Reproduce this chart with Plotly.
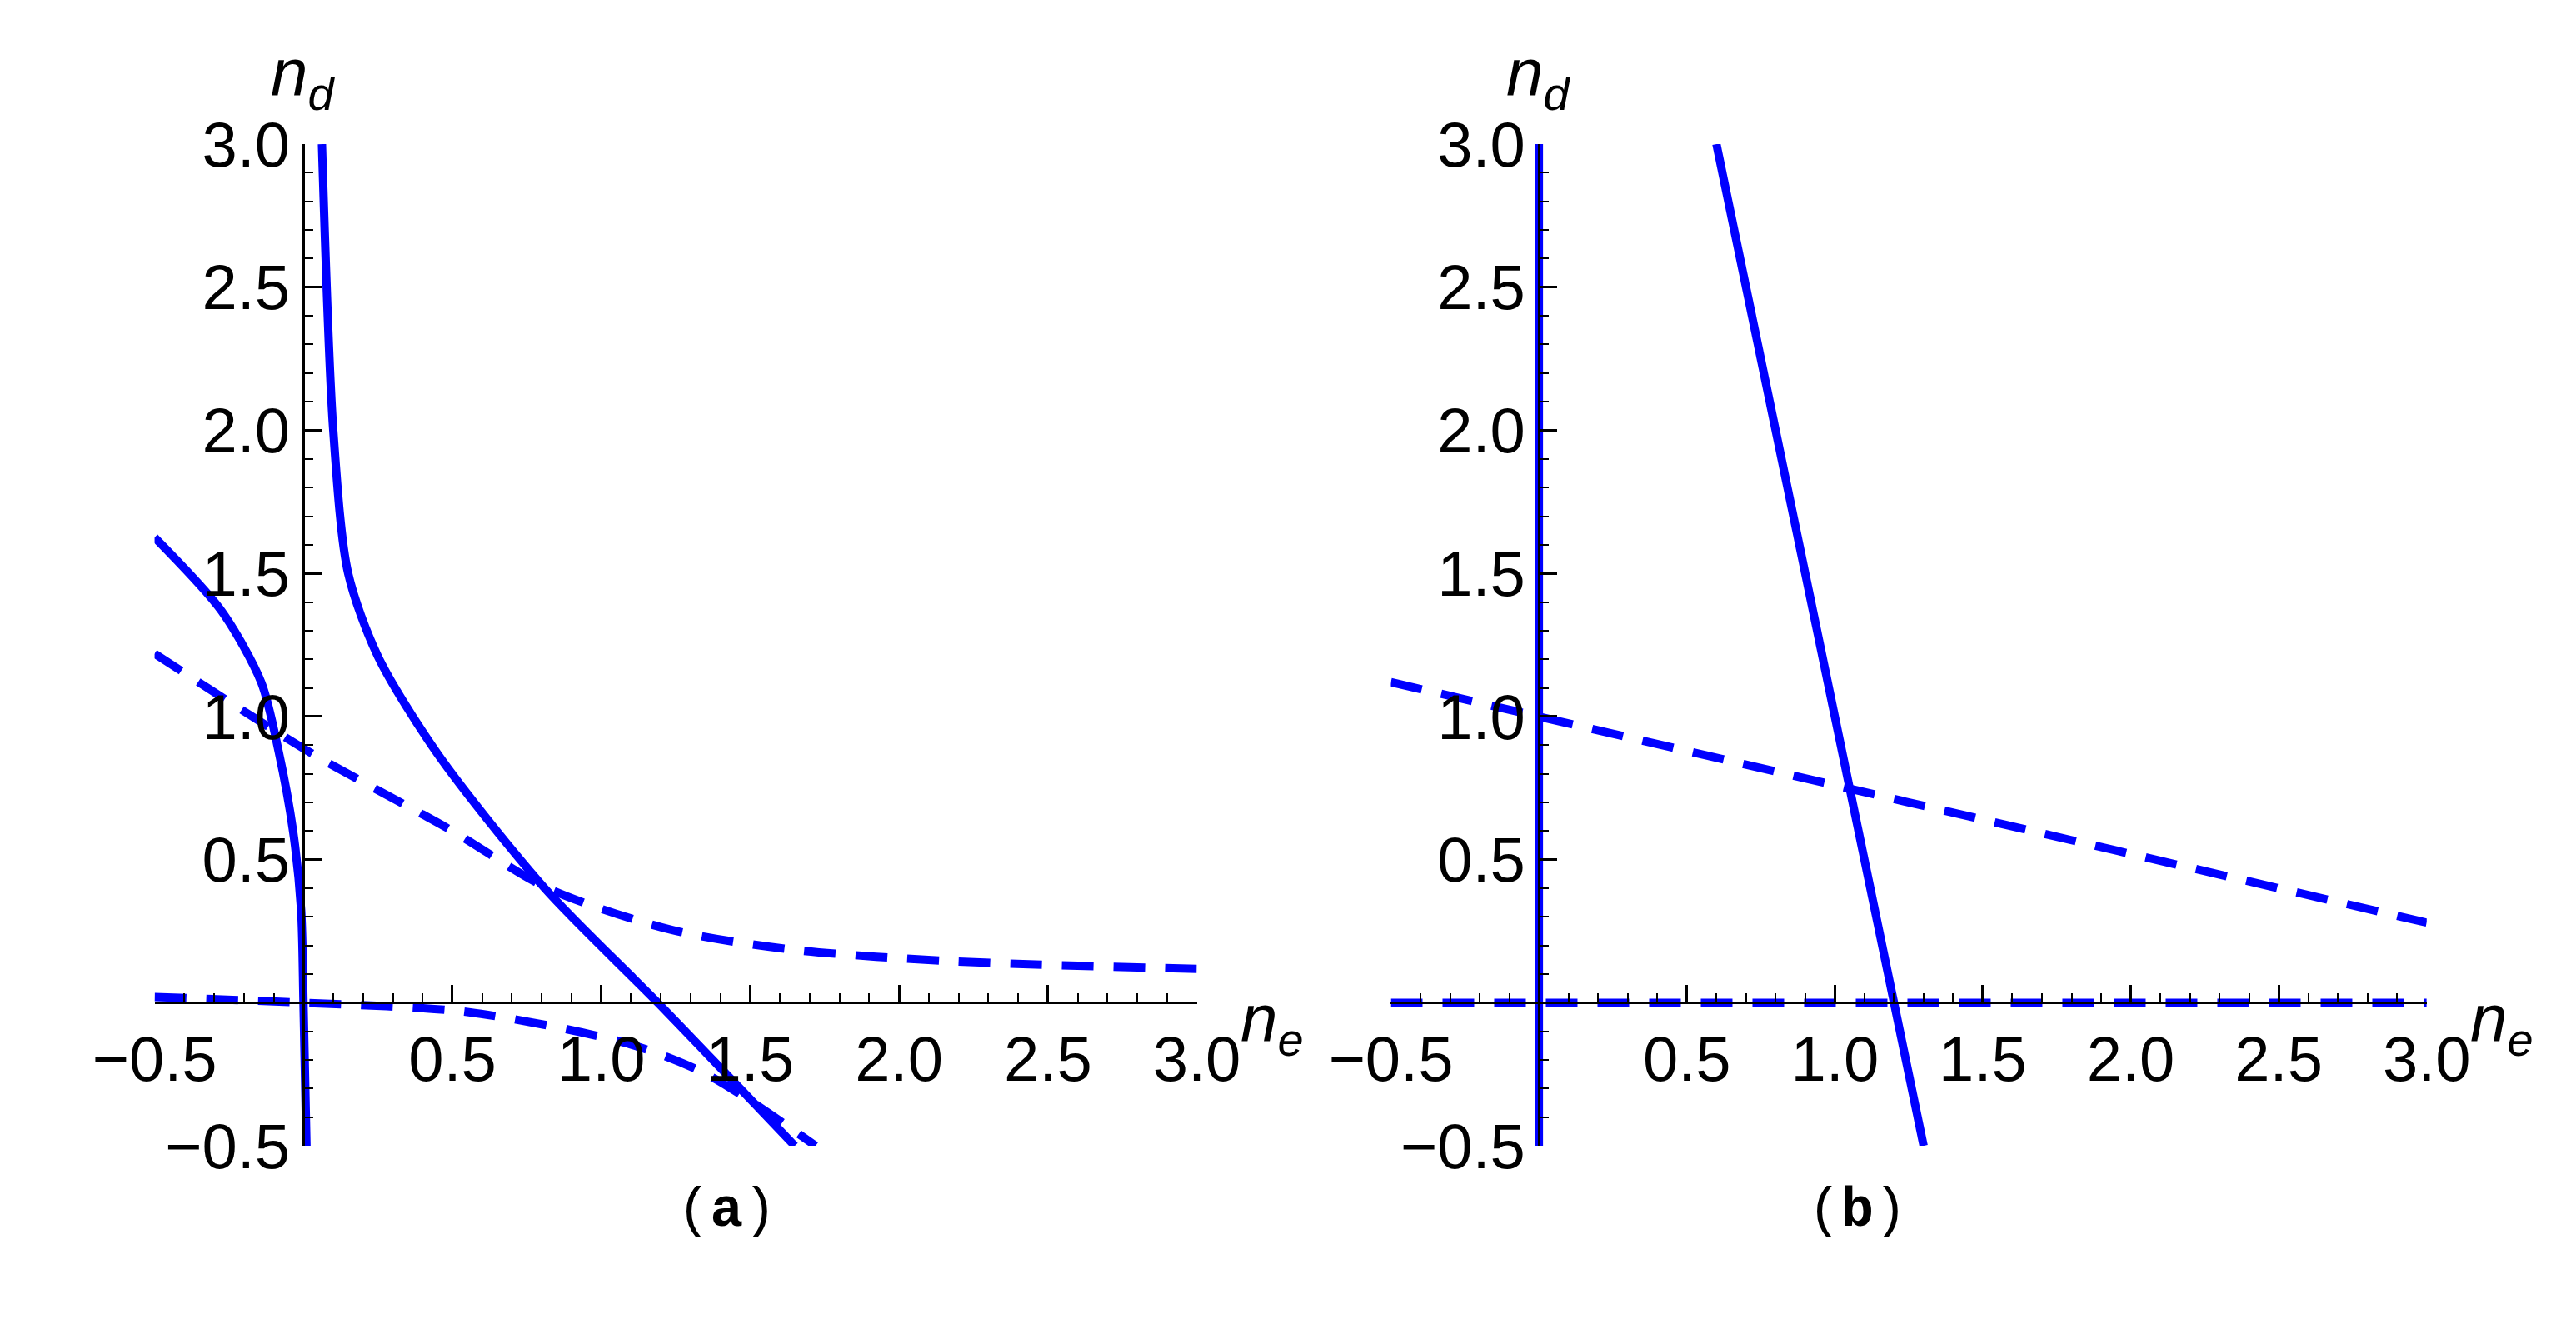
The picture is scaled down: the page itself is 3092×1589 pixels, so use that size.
import plotly.graph_objects as go

# ===== 数据=====
# (a) 实线 1：右上分支
a_solid1_x = [0.062, 0.10, 0.15, 0.25, 0.45, 0.81, 1.19, 1.65]
a_solid1_y = [3.0, 2.0, 1.5, 1.21, 0.87, 0.40, 0.0, -0.5]
# (a) 实线 2：左侧分支
a_solid2_x = [-0.5, -0.276, -0.142, -0.083, -0.035, -0.008, 0.0, 0.01]
a_solid2_y = [1.626, 1.37, 1.12, 0.876, 0.60, 0.325, 0.0, -0.5]
# (a) 虚线 1
a_dash1_x = [-0.5, 0.02, 0.50, 0.82, 1.23, 1.63, 2.16, 3.0]
a_dash1_y = [1.22, 0.876, 0.60, 0.40, 0.256, 0.187, 0.146, 0.118]
# (a) 虚线 2
a_dash2_x = [-0.5, 0.0, 0.555, 1.09, 1.36, 1.72]
a_dash2_y = [0.02, 0.0, -0.033, -0.143, -0.253, -0.5]

# (b)
b_solid1_x = [0.0, 0.0]
b_solid1_y = [-0.5, 3.0]
b_solid2_x = [0.6, 1.3]
b_solid2_y = [3.0, -0.5]
b_dash1_x = [-0.5, 3.0]
b_dash1_y = [1.12, 0.28]
b_dash2_x = [-0.5, 3.0]
b_dash2_y = [0.0, 0.0]

x_ticks = [-0.5, 0.5, 1.0, 1.5, 2.0, 2.5, 3.0]
y_ticks = [-0.5, 0.5, 1.0, 1.5, 2.0, 2.5, 3.0]
x_tick_text = ["\u22120.5", "0.5", "1.0", "1.5", "2.0", "2.5", "3.0"]
y_tick_text = ["\u22120.5", "0.5", "1.0", "1.5", "2.0", "2.5", "3.0"]

W, H = 3092, 1589
BLUE = "#0000ff"
FONT = "Liberation Sans, Arial, sans-serif"

dom_a = [107 / W, 1412 / W]
dom_b = [1655 / W, 2952 / W]
dom_y = [(H - 1400) / H, (H - 130) / H]
zero_frac = 0.5 / 3.5

fig = go.Figure()

def add_line(x, y, xa, ya, dash):
    fig.add_trace(go.Scatter(x=x, y=y, mode="lines", xaxis=xa, yaxis=ya,
                             line=dict(color=BLUE, width=10, dash=dash, shape="spline", smoothing=0.8),
                             showlegend=False, hoverinfo="skip"))

add_line(a_solid1_x, a_solid1_y, "x", "y", "solid")
add_line(a_solid2_x, a_solid2_y, "x", "y", "solid")
add_line(a_dash1_x, a_dash1_y, "x", "y", "38px,24px")
add_line(a_dash2_x, a_dash2_y, "x", "y", "38px,24px")
add_line(b_solid1_x, b_solid1_y, "x2", "y2", "solid")
add_line(b_solid2_x, b_solid2_y, "x2", "y2", "solid")
add_line(b_dash1_x, b_dash1_y, "x2", "y2", "38px,24px")
add_line(b_dash2_x, b_dash2_y, "x2", "y2", "38px,24px")

tick_font = dict(family=FONT, size=76, color="black")
minor = dict(dtick=0.1, ticklen=10, tickwidth=2, tickcolor="black", ticks="inside")

def xaxis_cfg(dom):
    return dict(domain=dom, range=[-0.5, 3.0], anchor="free",
                position=dom_y[0] + zero_frac * (dom_y[1] - dom_y[0]),
                showgrid=False, zeroline=False, showline=True, linecolor="black", linewidth=3,
                ticks="inside", ticklen=20, tickwidth=3, tickcolor="black",
                tickvals=x_ticks, ticktext=x_tick_text, tickfont=tick_font, minor=minor)

def yaxis_cfg(dom):
    return dict(domain=dom_y, range=[-0.5, 3.0], anchor="free",
                position=dom[0] + zero_frac * (dom[1] - dom[0]),
                showgrid=False, zeroline=False, showline=True, linecolor="black", linewidth=3,
                ticks="inside", ticklen=20, tickwidth=3, tickcolor="black",
                tickvals=y_ticks, ticktext=y_tick_text, tickfont=tick_font, minor=minor)

fig.update_layout(
    width=W, height=H, margin=dict(l=0, r=0, t=0, b=0),
    plot_bgcolor="white", paper_bgcolor="white",
    xaxis=xaxis_cfg(dom_a), yaxis=yaxis_cfg(dom_a),
    xaxis2=xaxis_cfg(dom_b), yaxis2=yaxis_cfg(dom_b),
)

lab_font = dict(family=FONT, size=80, color="black")
for xa, ya in [("x", "y"), ("x2", "y2")]:
    fig.add_annotation(x=0, y=3.0, xref=xa, yref=ya, text="<i>n</i><sub><i>d</i></sub>",
                       showarrow=False, yshift=80, font=lab_font)
    fig.add_annotation(x=3.0, y=0, xref=xa, yref=ya, text="<i>n</i><sub><i>e</i></sub>",
                       showarrow=False, xanchor="left", xshift=50, yshift=-25, font=lab_font)

for dom, lab in [(dom_a, "a"), (dom_b, "b")]:
    fig.add_annotation(x=(dom[0] + dom[1]) / 2 + 0.0, y=(H - 1525) / H, xref="paper", yref="paper",
                       text="(<b>" + lab + "</b>)", showarrow=False,
                       font=dict(family="Liberation Mono, DejaVu Sans Mono, monospace", size=66, color="black"))

fig.write_html("out.html")
